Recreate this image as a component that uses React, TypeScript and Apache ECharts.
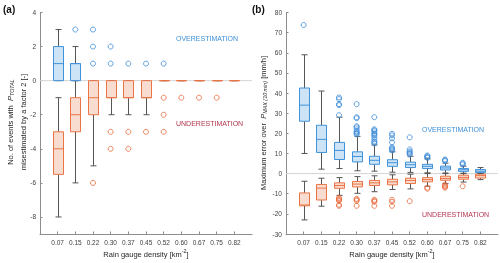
import React, { useEffect, useRef } from 'react';
import * as echarts from 'echarts';

const densities = ['0.07', '0.15', '0.22', '0.30', '0.37', '0.45', '0.52', '0.60', '0.67', '0.75', '0.82'];
const aTicks = [-8, -6, -4, -2, 0, 2, 4];
const bTicks = [-30, -20, -10, 0, 10, 20, 30, 40, 50, 60, 70, 80];

// [min, Q1, median, Q3, max] per density; null = no box
const aOverStats: (number[] | null)[] = [
  [0, 0, 1, 2, 3], [0, 0, 1, 1, 2], null, null, null, null, null, null, null, null, null,
];
const aUnderStats: (number[] | null)[] = [
  [-8, -5.5, -4, -3, -1], [-6, -3, -2, -1, 0], [-5, -2, -1, 0, 0], [-2, -1, -1, 0, 0],
  [-2, -1, -1, 0, 0], [-2, -1, -1, 0, 0], [0, 0, 0, 0, 0], [0, 0, 0, 0, 0],
  [0, 0, 0, 0, 0], [0, 0, 0, 0, 0], [0, 0, 0, 0, 0],
];
const aOverOutliers = [[], [3], [1, 2, 3], [1, 2], [1], [1], [1], [], [], [], []];
const aUnderOutliers = [[], [], [-6], [-3, -4], [-3, -4], [-3], [-1, -2, -3], [-1], [-1], [-1], []];

const bOverStats: (number[] | null)[] = [
  [10, 26, 34, 42.5, 59], [2.2, 10.5, 17, 24, 41], [2.5, 7, 11.5, 15.5, 28],
  [1.4, 5.8, 8.5, 10.8, 18.5], [1.2, 4.6, 6.6, 8.6, 14.2], [0.7, 3.6, 5.4, 6.9, 10.8],
  [0.6, 3, 4.4, 5.7, 8.6], [0.4, 2.5, 3.6, 4.6, 7.3], [0.3, 1.8, 2.8, 3.7, 5.2],
  [0.2, 1.1, 1.9, 2.5, 3.7], [0, 0.6, 1.2, 2, 3],
];
const bUnderStats: (number[] | null)[] = [
  [-23, -16, -15.6, -9.6, -3.8], [-16.2, -13.1, -7.2, -5.4, -2.3], [-10.8, -7.3, -5.9, -4.6, -2],
  [-9.8, -6.6, -5.2, -3.9, -1.5], [-9, -5.9, -4.6, -3.4, -1.1], [-7.9, -5.6, -4.1, -2.8, -0.6],
  [-7.6, -4.9, -3.4, -2.3, -0.3], [-6.3, -4.1, -3, -2, 0], [-5, -3.3, -2.4, -1.3, 0],
  [-4.2, -2.8, -1.9, -0.8, 0], [-3, -2.2, -1, -0.2, 0],
];
const bOverOutliers = [
  [73.8], [], [29, 34, 34.5, 37, 37.8],
  [19.5, 20, 20.5, 21, 22, 23, 23.5, 27.5, 28, 34.5],
  [15, 15.5, 16, 17, 18, 19, 19.5, 20, 21, 21.5, 22, 28],
  [11.5, 12, 12.5, 13, 15.5, 17.5, 19, 19.8],
  [9.5, 10, 10.5, 11, 12, 18], [7.8, 8.2, 8.6, 9], [6.2, 6.6, 7], [4.5, 5, 5.4], [],
];
const bUnderOutliers = [
  [], [], [-12, -12.5, -13, -13.5, -15.5, -16], [-12.5, -13, -13.5, -16],
  [-13, -13.5, -14, -16], [-13, -14, -16], [-13.7], [-7, -7.5], [-5.5, -6, -6.5, -7], [-6.3], [],
];

const FONT = "'Liberation Sans', Arial, Helvetica, sans-serif";
const C = {
  blueEdge: '#4092da', blueFill: '#cde4f6', orangeEdge: '#ea7445', orangeFill: '#f9dcd0',
  whisker: '#555555', blueOut: '#3a8ad8', orangeOut: '#e8683a', overText: '#3b8fd6', underText: '#b3354f',
  axis: '#8c8c8c', tick: '#404040', zero: '#d4d4d4',
};

let measureCtx: CanvasRenderingContext2D | null = null;
function fontStr(size: number, italic?: boolean, bold?: boolean) {
  return `${italic ? 'italic ' : ''}${bold ? 'bold ' : ''}${size}px ${FONT}`;
}
function measure(text: string, size: number, italic?: boolean) {
  if (!measureCtx) measureCtx = document.createElement('canvas').getContext('2d');
  measureCtx!.font = fontStr(size, italic);
  return measureCtx!.measureText(text).width;
}

type Part = { t: string; italic?: boolean; script?: 'sub' | 'sup' };
function richLabel(parts: Part[], size: number, cx: number, cy: number, rotate: boolean, color = '#262626') {
  const items = parts.map((p) => {
    const s = p.script ? size * 0.72 : size;
    return { ...p, s, w: measure(p.t, s, p.italic) };
  });
  const total = items.reduce((a, b) => a + b.w, 0);
  let acc = -total / 2;
  const children = items.map((p) => {
    const off = p.script === 'sub' ? size * 0.32 : p.script === 'sup' ? -size * 0.38 : 0;
    const el = {
      type: 'text', x: acc, y: off,
      style: { text: p.t, font: fontStr(p.s, p.italic), fill: color, align: 'left', verticalAlign: 'middle', textAlign: 'left', textVerticalAlign: 'middle' },
    };
    acc += p.w;
    return el;
  });
  return { type: 'group', x: cx, y: cy, rotation: rotate ? Math.PI / 2 : 0, children, silent: true };
}

function boxData(stats: (number[] | null)[]) {
  const out: number[][] = [];
  stats.forEach((s, i) => { if (s) out.push([i + 1, ...s]); });
  return out;
}
function outData(list: number[][]) {
  const out: number[][] = [];
  list.forEach((vals, i) => vals.forEach((v) => out.push([i + 1, v])));
  return out;
}

function boxSeries(idx: number, stats: (number[] | null)[], edge: string, fill: string) {
  return {
    type: 'custom', xAxisIndex: idx, yAxisIndex: idx, z: 3,
    encode: { x: 0, y: [1, 2, 3, 4, 5] },
    data: boxData(stats),
    renderItem: (params: any, api: any) => {
      const x = api.value(0);
      const p = [1, 2, 3, 4, 5].map((d) => api.coord([x, api.value(d)]));
      const cx = Math.round(p[0][0]) + 0.5;
      const [yMin, yQ1, yMed, yQ3, yMax] = p.map((q) => q[1]);
      const hw = 5, cw = 3;
      const ws = { stroke: C.whisker, lineWidth: 1 };
      return {
        type: 'group',
        children: [
          { type: 'line', shape: { x1: cx, y1: yQ3, x2: cx, y2: yMax }, style: ws },
          { type: 'line', shape: { x1: cx, y1: yQ1, x2: cx, y2: yMin }, style: ws },
          { type: 'line', shape: { x1: cx - cw, y1: yMax, x2: cx + cw, y2: yMax }, style: ws },
          { type: 'line', shape: { x1: cx - cw, y1: yMin, x2: cx + cw, y2: yMin }, style: ws },
          { type: 'rect', shape: { x: cx - hw, y: yQ3, width: hw * 2, height: Math.max(yQ1 - yQ3, 0.01) }, style: { fill, stroke: edge, lineWidth: 1 } },
          { type: 'line', shape: { x1: cx - hw, y1: yMed, x2: cx + hw, y2: yMed }, style: { stroke: edge, lineWidth: 1 } },
        ],
      };
    },
  };
}

function scatterSeries(idx: number, list: number[][], color: string) {
  return {
    type: 'scatter', xAxisIndex: idx, yAxisIndex: idx, z: 4,
    symbol: 'circle', symbolSize: 5,
    itemStyle: { color: 'rgba(0,0,0,0)', borderColor: color, borderWidth: 1 },
    data: outData(list),
  };
}

const catIdx = densities.map((_, i) => i + 1);

function xAxisCfg(idx: number) {
  return {
    gridIndex: idx, type: 'value', min: 0, max: 12,
    axisLine: { show: true, onZero: false, lineStyle: { color: C.axis, width: 1 } },
    axisTick: { show: true, inside: true, length: 2.5, customValues: catIdx, lineStyle: { color: C.axis } },
    axisLabel: { customValues: catIdx, formatter: (v: number) => densities[Math.round(v) - 1] ?? '', fontSize: 6.5, color: C.tick, margin: 5, fontFamily: FONT },
    splitLine: { show: false },
  };
}
function yAxisCfg(idx: number, min: number, max: number, ticks: number[]) {
  return {
    gridIndex: idx, type: 'value', min, max,
    axisLine: { show: true, onZero: false, lineStyle: { color: C.axis, width: 1 } },
    axisTick: { show: true, inside: true, length: 2.5, customValues: ticks, lineStyle: { color: C.axis } },
    axisLabel: { customValues: ticks, fontSize: 6.5, color: C.tick, margin: 4, fontFamily: FONT },
    splitLine: { show: false },
  };
}

function zeroLine(idx: number) {
  return {
    type: 'line', xAxisIndex: idx, yAxisIndex: idx, z: 1, silent: true,
    showSymbol: false, symbol: 'none',
    lineStyle: { color: C.zero, width: 1 },
    data: [[0, 0], [12, 0]],
  };
}

function textEl(text: string, x: number, y: number, color: string, size = 7, bold = false) {
  return {
    type: 'text', x, y, silent: true,
    style: { text, font: fontStr(size, false, bold), fill: color, align: 'left', verticalAlign: 'middle', textAlign: 'left', textVerticalAlign: 'middle' },
  };
}

export default function App() {
  const ref = useRef<HTMLDivElement>(null);
  useEffect(() => {
    if (!ref.current) return;
    const chart = echarts.init(ref.current, undefined, { renderer: 'svg' });
    const xName: Part[] = [{ t: 'Rain gauge density [km' }, { t: '-2', script: 'sup' }, { t: ']' }];
    chart.setOption({
      animation: false,
      textStyle: { fontFamily: FONT },
      grid: [
        { left: 40, top: 12.5, width: 212, height: 221.5 },
        { left: 286, top: 12.5, width: 212, height: 221.5 },
      ],
      xAxis: [xAxisCfg(0), xAxisCfg(1)],
      yAxis: [yAxisCfg(0, -9, 4, aTicks), yAxisCfg(1, -30, 80, bTicks)],
      series: [
        zeroLine(0), zeroLine(1),
        boxSeries(0, aUnderStats, C.orangeEdge, C.orangeFill),
        boxSeries(0, aOverStats, C.blueEdge, C.blueFill),
        boxSeries(1, bUnderStats, C.orangeEdge, C.orangeFill),
        boxSeries(1, bOverStats, C.blueEdge, C.blueFill),
        scatterSeries(0, aOverOutliers, C.blueOut),
        scatterSeries(0, aUnderOutliers, C.orangeOut),
        scatterSeries(1, bOverOutliers, C.blueOut),
        scatterSeries(1, bUnderOutliers, C.orangeOut),
      ],
      graphic: [
        textEl('(a)', 3, 9, '#111', 10, true),
        textEl('(b)', 252, 9, '#111', 10, true),
        textEl('OVERESTIMATION', 176, 38, C.overText),
        textEl('UNDERESTIMATION', 176, 123, C.underText),
        textEl('OVERESTIMATION', 422, 129, C.overText),
        textEl('UNDERESTIMATION', 422, 214, C.underText),
        richLabel([{ t: 'No. of events with  ' }, { t: 'P', italic: true }, { t: 'TOTAL', italic: true, script: 'sub' }], 7.5, 10, 122, true),
        richLabel([{ t: 'misestimated by a factor 2 [-]' }], 7.5, 23, 122, true),
        richLabel([{ t: 'Maximum error over  ' }, { t: 'P', italic: true }, { t: 'MAX (10 min)', italic: true, script: 'sub' }, { t: ' [mm/h]' }], 7.5, 263, 123, true),
        richLabel(xName, 7.5, 146, 254, false),
        richLabel(xName, 7.5, 392, 254, false),
      ],
    });
    return () => chart.dispose();
  }, []);
  return <div ref={ref} style={{ position: 'fixed', left: 0, top: 0, width: 500, height: 263 }} />;
}
